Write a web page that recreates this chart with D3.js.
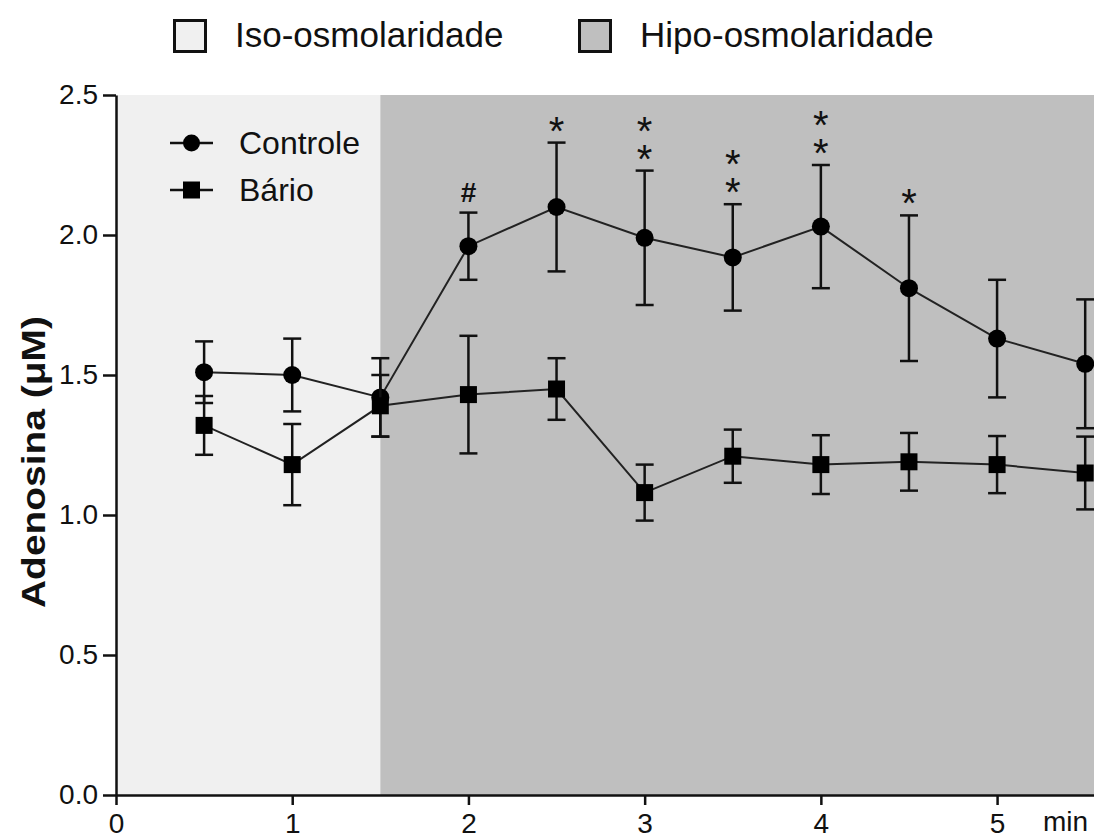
<!DOCTYPE html>
<html>
<head>
<meta charset="utf-8">
<script src="https://cdn.jsdelivr.net/npm/d3@7"></script>
<style>
  html, body { margin: 0; padding: 0; background: #ffffff; }
  svg { display: block; font-family: Arial, "Liberation Sans", sans-serif; }
</style>
</head>
<body>
<svg id="chart" width="1094" height="838"></svg>
<script>
// Sampling times (min)
const times = [0.5, 1, 1.5, 2, 2.5, 3, 3.5, 4, 4.5, 5, 5.5];

// Adenosine release, mean and SEM (µM)
const controleMean = [1.51, 1.50, 1.42, 1.96, 2.10, 1.99, 1.92, 2.03, 1.81, 1.63, 1.54];
const controleSem  = [0.11, 0.13, 0.14, 0.12, 0.23, 0.24, 0.19, 0.22, 0.26, 0.21, 0.23];
const barioMean    = [1.32, 1.18, 1.39, 1.43, 1.45, 1.08, 1.21, 1.18, 1.19, 1.18, 1.15];
const barioSem     = [0.105, 0.145, 0.11, 0.21, 0.11, 0.10, 0.095, 0.105, 0.103, 0.102, 0.13];

// Significance marks above the Controle error bars
const markTimes = [2, 2.5, 3, 3.5, 4, 4.5];
const markSymbols = [["#"], ["*"], ["*", "*"], ["*", "*"], ["*", "*"], ["*"]];

// Osmolarity phases (min)
const phaseNames = ["Iso-osmolaridade", "Hipo-osmolaridade"];
const phaseStart = [0, 1.5];
const phaseEnd = [1.5, 5.55];
const phaseFill = ["#f0f0f0", "#bfbfbf"];

// Axis ticks
const xTicks = [0, 1, 2, 3, 4, 5];
const yTicks = [0, 0.5, 1.0, 1.5, 2.0, 2.5];

const svg = d3.select("#chart");

const x = d3.scaleLinear().domain([0, 5.55]).range([116, 1094]);
const y = d3.scaleLinear().domain([0, 2.5]).range([795, 95]);

// Phase background bands
svg.append("g").selectAll("rect")
  .data(phaseNames)
  .join("rect")
  .attr("x", (d, i) => x(phaseStart[i]))
  .attr("y", y(2.5))
  .attr("width", (d, i) => x(phaseEnd[i]) - x(phaseStart[i]))
  .attr("height", y(0) - y(2.5))
  .attr("fill", (d, i) => phaseFill[i]);

// Phase legend (top)
const phaseLegendX = [173, 578];
const pl = svg.append("g").selectAll("g")
  .data(phaseNames)
  .join("g")
  .attr("transform", (d, i) => `translate(${phaseLegendX[i]},19)`);
pl.append("rect")
  .attr("x", 1.5).attr("y", 1.5)
  .attr("width", 31).attr("height", 31)
  .attr("fill", (d, i) => phaseFill[i])
  .attr("stroke", "#111").attr("stroke-width", 3);
pl.append("text")
  .attr("x", 62).attr("y", 28)
  .attr("font-size", 35)
  .attr("fill", "#111")
  .text(d => d);

// Axes
const yAxis = d3.axisLeft(y).tickValues(yTicks).tickFormat(d3.format(".1f"))
  .tickSize(13).tickSizeOuter(0).tickPadding(5);
const gy = svg.append("g").attr("transform", `translate(${x(0)},0)`).call(yAxis);

const xAxis = d3.axisBottom(x).tickValues(xTicks).tickFormat(d3.format("d"))
  .tickSize(10).tickSizeOuter(0).tickPadding(8);
const gx = svg.append("g").attr("transform", `translate(0,${y(0)})`).call(xAxis);

[gx, gy].forEach(g => {
  g.select(".domain").attr("stroke", "#111").attr("stroke-width", 2.5);
  g.selectAll(".tick line").attr("stroke", "#111").attr("stroke-width", 2.5);
  g.selectAll(".tick text").attr("font-size", 28).attr("fill", "#111")
    .attr("font-family", "Arial, 'Liberation Sans', sans-serif");
});

svg.append("text")
  .attr("x", 1043).attr("y", 831)
  .attr("font-size", 28).attr("fill", "#111")
  .text("min");

svg.append("text")
  .attr("transform", `translate(45,462) rotate(-90)`)
  .attr("text-anchor", "middle")
  .attr("font-size", 34).attr("font-weight", "bold")
  .attr("fill", "#111")
  .attr("textLength", 292).attr("lengthAdjust", "spacingAndGlyphs")
  .text("Adenosina (\u03bcM)");

// Series
const series = [
  { name: "Controle", mean: controleMean, sem: controleSem, shape: "circle" },
  { name: "Bário", mean: barioMean, sem: barioSem, shape: "square" }
];

const capHalf = 9;
const line = d3.line().x(d => x(d[0])).y(d => y(d[1]));

series.forEach(s => {
  const pts = times.map((t, i) => [t, s.mean[i], s.sem[i]]);
  const g = svg.append("g");
  // error bars
  const eb = g.append("g").selectAll("g").data(pts).join("g");
  eb.append("line")
    .attr("x1", d => x(d[0])).attr("x2", d => x(d[0]))
    .attr("y1", d => y(d[1] + d[2])).attr("y2", d => y(d[1] - d[2]))
    .attr("stroke", "#111").attr("stroke-width", 2.5);
  [1, -1].forEach(sign => {
    eb.append("line")
      .attr("x1", d => x(d[0]) - capHalf).attr("x2", d => x(d[0]) + capHalf)
      .attr("y1", d => y(d[1] + sign * d[2])).attr("y2", d => y(d[1] + sign * d[2]))
      .attr("stroke", "#111").attr("stroke-width", 2.5);
  });
  // connecting line
  g.append("path")
    .attr("d", line(pts))
    .attr("fill", "none").attr("stroke", "#222").attr("stroke-width", 2);
  // markers
  if (s.shape === "circle") {
    g.append("g").selectAll("circle").data(pts).join("circle")
      .attr("cx", d => x(d[0])).attr("cy", d => y(d[1])).attr("r", 9)
      .attr("fill", "#000");
  } else {
    g.append("g").selectAll("rect").data(pts).join("rect")
      .attr("x", d => x(d[0]) - 8.5).attr("y", d => y(d[1]) - 8.5)
      .attr("width", 17).attr("height", 17)
      .attr("fill", "#000");
  }
});

// Significance marks: stacked symbols share one text element per time point
const marks = svg.append("g");
markTimes.forEach((t, i) => {
  const idx = times.indexOf(t);
  const top = y(controleMean[idx] + controleSem[idx]);
  const syms = markSymbols[i];
  const isHash = syms[0] === "#";
  const lift = isHash ? 10 : 23;       // glyph centre above baseline
  const n = syms.length;
  const firstCy = top - 21 - (n - 1) * 28;
  const txt = marks.append("text")
    .attr("text-anchor", "middle")
    .attr("fill", "#111")
    .attr("font-size", isHash ? 28 : 40)
    .attr("font-weight", isHash ? "bold" : "normal");
  syms.forEach((sym, k) => {
    txt.append("tspan")
      .attr("x", x(t))
      .attr("y", firstCy + k * 28 + lift)
      .text(sym);
  });
});

// Series legend (inside plot)
const legendY = [143, 190];
const lg = svg.append("g").selectAll("g").data(series).join("g")
  .attr("transform", (d, i) => `translate(0,${legendY[i]})`);
lg.append("line").attr("x1", 170).attr("x2", 213)
  .attr("stroke", "#111").attr("stroke-width", 2.5);
lg.each(function(d) {
  const g = d3.select(this);
  if (d.shape === "circle") {
    g.append("circle").attr("cx", 191.5).attr("cy", 0).attr("r", 8.5).attr("fill", "#000");
  } else {
    g.append("rect").attr("x", 183).attr("y", -8.5).attr("width", 17).attr("height", 17).attr("fill", "#000");
  }
});
lg.append("text")
  .attr("x", 239).attr("y", 11)
  .attr("font-size", 32).attr("fill", "#111")
  .text(d => d.name);
</script>
</body>
</html>
